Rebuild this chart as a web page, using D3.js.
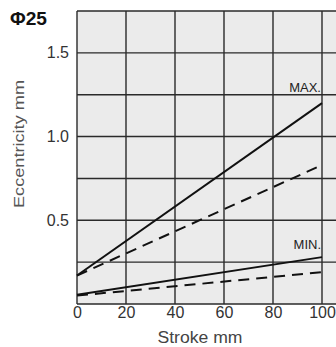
<!DOCTYPE html>
<html lang="en">
<head>
<meta charset="utf-8">
<style type="text/css">
body { margin: 0; background: #fff; }
svg text { font-family: "Liberation Sans", Arial, sans-serif; }
.grid line { stroke: #2a2a2a; stroke-width: 1.4px; }
</style>
</head>
<body>
<svg width="336" height="347"></svg>
<script src="https://d3js.org/d3.v7.min.js"></script>
<script type="text/javascript">
// stroke (mm) for each line end
var stroke = [0, 100];
var maxSolid = [0.17, 1.20];
var maxDashed = [0.17, 0.83];
var minSolid = [0.055, 0.28];
var minDashed = [0.05, 0.19];
var xTicks = [0, 20, 40, 60, 80, 100];
var yTicks = [0.5, 1.0, 1.5];
var yGrid = [0.25, 0.5, 0.75, 1.0, 1.25, 1.5];

var svg = d3.select("svg"),
    plotL = 77, plotR = 336, plotT = 11, plotB = 304;

var x = d3.scaleLinear().domain([0, 100]).range([plotL, 322]);
var y = d3.scaleLinear().domain([0, 1.75]).range([plotB, plotT]);

svg.append("rect")
    .attr("x", plotL).attr("y", plotT)
    .attr("width", plotR - plotL).attr("height", plotB - plotT)
    .attr("fill", "#ebebeb");

var grid = svg.append("g").attr("class", "grid");
grid.selectAll(".h").data(yGrid.concat([1.75, 0])).enter()
    .append("line")
    .attr("x1", plotL).attr("x2", plotR)
    .attr("y1", function (d) { return y(d); })
    .attr("y2", function (d) { return y(d); });
grid.selectAll(".v").data(xTicks).enter()
    .append("line")
    .attr("y1", plotT).attr("y2", plotB)
    .attr("x1", function (d) { return x(d); })
    .attr("x2", function (d) { return x(d); });

// axes (labels only, domain/ticks hidden)
var xAxis = svg.append("g")
    .attr("transform", "translate(0," + plotB + ")")
    .call(d3.axisBottom(x).tickValues(xTicks).tickSize(0).tickPadding(3));
var yAxis = svg.append("g")
    .attr("transform", "translate(" + plotL + ",0)")
    .call(d3.axisLeft(y).tickValues(yTicks).tickSize(0).tickPadding(8)
        .tickFormat(d3.format(".1f")));
[xAxis, yAxis].forEach(function (a) {
    a.select(".domain").remove();
    a.selectAll("text").attr("font-size", 16).attr("fill", "#333")
        .style("font-family", "Liberation Sans, Arial, sans-serif");
});

var line = d3.line()
    .x(function (d) { return x(d[0]); })
    .y(function (d) { return y(d[1]); });

function draw(vals, dashed) {
    svg.append("path")
        .datum(stroke.map(function (s, i) { return [s, vals[i]]; }))
        .attr("d", line)
        .attr("fill", "none")
        .attr("stroke", "#111")
        .attr("stroke-width", 2)
        .attr("stroke-dasharray", dashed ? "11,7" : null);
}
draw(maxSolid, false);
draw(maxDashed, true);
draw(minSolid, false);
draw(minDashed, true);

svg.append("text").attr("x", x(100) - 1).attr("y", y(1.2) - 11)
    .attr("text-anchor", "end").attr("font-size", 13).attr("fill", "#222")
    .text("MAX.");
svg.append("text").attr("x", x(100) - 1).attr("y", y(0.28) - 8)
    .attr("text-anchor", "end").attr("font-size", 13).attr("fill", "#222")
    .text("MIN.");

svg.append("text").attr("x", 10).attr("y", 25)
    .attr("font-size", 19).attr("font-weight", "bold").attr("fill", "#111")
    .attr("textLength", 37).attr("lengthAdjust", "spacingAndGlyphs")
    .text("Φ25");

svg.append("text")
    .attr("transform", "translate(24,144) rotate(-90)")
    .attr("text-anchor", "middle").attr("font-size", 14).attr("fill", "#555")
    .attr("textLength", 128).attr("lengthAdjust", "spacingAndGlyphs")
    .text("Eccentricity  mm");

svg.append("text").attr("x", 200).attr("y", 343)
    .attr("text-anchor", "middle").attr("font-size", 16).attr("fill", "#444")
    .attr("textLength", 85).attr("lengthAdjust", "spacingAndGlyphs")
    .text("Stroke  mm");
</script>
</body>
</html>
